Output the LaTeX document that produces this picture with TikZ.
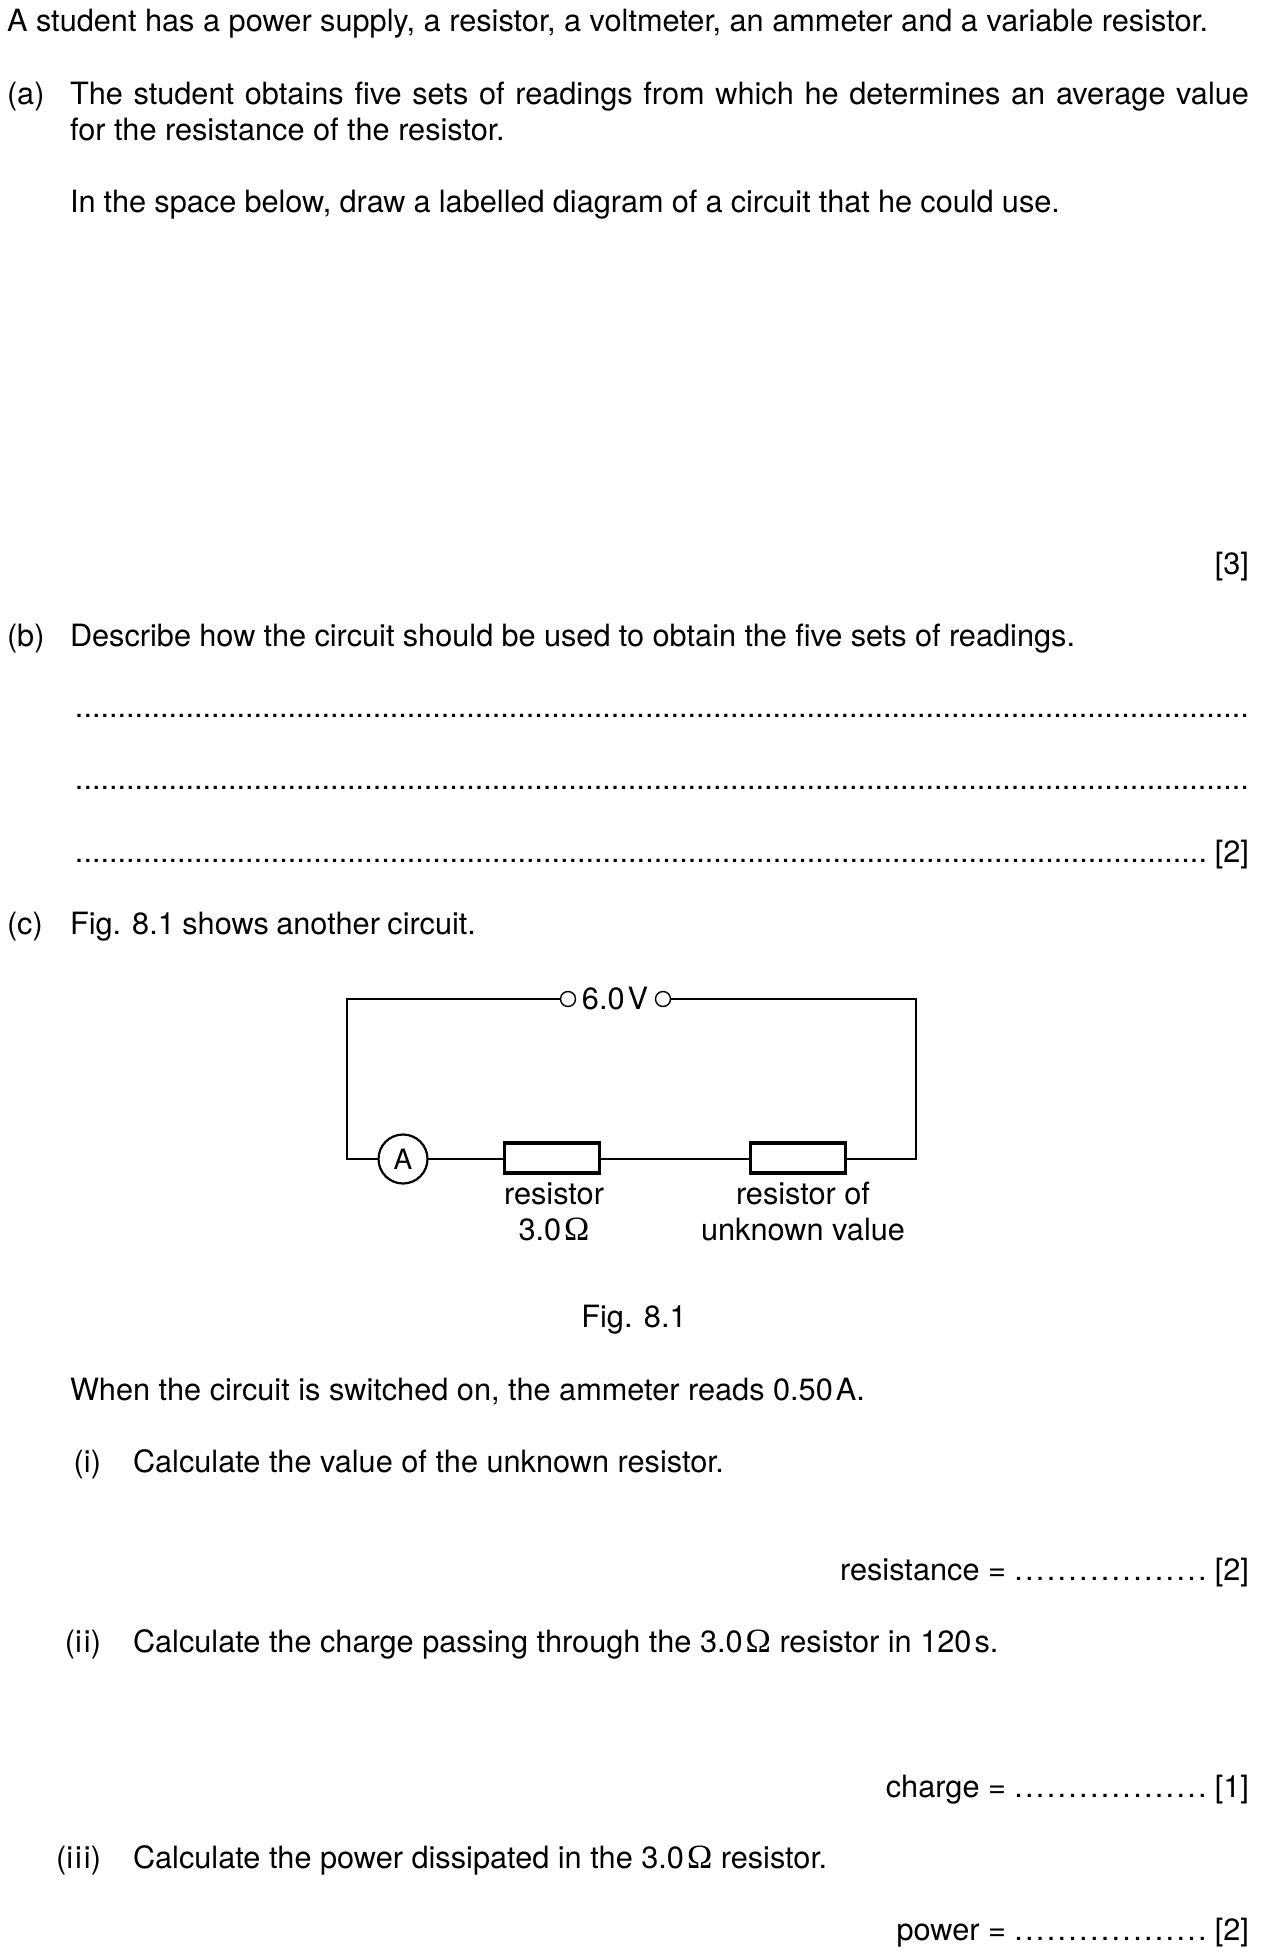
\documentclass[tikz,border=0pt]{standalone}
\usepackage{fontspec}
\setmainfont{TeX Gyre Heros}
\newfontfamily\omegafont{Liberation Serif}
\newcommand{\ohm}{{\omegafont\fontsize{17pt}{18pt}\selectfont Ω}}
\newcommand{\thin}{\kern1.5pt}
\newcommand{\dense}[1]{\hbox to #1{\xleaders\hbox to 4.25pt{\hss.\hss}\hfill}}
\newcommand{\sparse}{\hbox to 97.5pt{\xleaders\hbox to 5.2pt{\hss.\hss}\hfill}}
\tikzset{
  x=0.5pt,y=-0.5pt,
  txt/.style={anchor=base west,inner sep=0pt,outer sep=0pt,font=\fontsize{15.35pt}{18pt}\selectfont},
  rtxt/.style={txt,anchor=base east},
  ctxt/.style={txt,anchor=base},
  wire/.style={line width=0.55pt,line cap=round},
  resbox/.style={draw,line width=1.8pt,minimum width=47.5pt,minimum height=15pt,inner sep=0pt,outer sep=0pt},
  meter/.style={draw,circle,line width=1.1pt,minimum size=24.5pt,inner sep=0pt,outer sep=0pt,font=\fontsize{14pt}{16pt}\selectfont},
  term/.style={draw,circle,line width=0.7pt,minimum size=7.5pt,inner sep=0pt,outer sep=0pt}
}
\begin{document}
\begin{tikzpicture}
\useasboundingbox (0,0) rectangle (1270,1957);
\node[txt] (intro) at (7,32) {A student has a power supply, a resistor, a voltmeter, an ammeter and a variable resistor.};
\node[txt] (a) at (7,105) {(a)};
\node[txt] (a1) at (70,105) {\hbox to 589.5pt{The student obtains five sets of readings from which he determines an average value}};
\node[txt] (a2) at (70,141) {for the resistance of the resistor.};
\node[txt] (a3) at (70,213) {\hbox to 495pt{In the space below, draw a labelled diagram of a circuit that he could use.}};
\node[rtxt] (m3) at (1249,574) {[3]};
\node[txt] (b) at (7,646) {(b)};
\node[txt] (b1) at (70,646) {\hbox to 502.5pt{Describe how the circuit should be used to obtain the five sets of readings.}};
\node[txt] (d1) at (75,717.5) {\dense{587pt}};
\node[txt] (d2) at (75,789.5) {\dense{587pt}};
\node[txt] (d3) at (75,862) {\dense{566pt}};
\node[rtxt] (m2b) at (1249,862) {[2]};
\node[txt] (c) at (7,934.5) {(c)};
\node[txt] (c1) at (70,934.5) {\hbox to 203pt{Fig. 8.1 shows another circuit.}};
% circuit
\coordinate (tl) at (347,999);
\coordinate (tr) at (916,999);
\coordinate (bl) at (347,1159);
\coordinate (br) at (916,1159);
\node[term] (t1) at (568,999) {};
\node[term] (t2) at (663,999) {};
\node[ctxt] (v) at (615,1009.5) {6.0\thin V};
\node[meter] (am) at (403,1159) {A};
\node[resbox] (r1) at (552,1158) {};
\node[resbox] (r2) at (798,1158) {};
\draw[wire] (t1) -- (tl) -- (bl) -- (am);
\draw[wire] (am) -- (r1.west |- am);
\draw[wire] (r1.east |- am) -- (r2.west |- am);
\draw[wire] (r2.east |- am) -- (br) -- (tr) -- (t2);
\node[ctxt] (l1) at (554,1204.5) {resistor};
\node[ctxt] (l2) at (554,1240) {3.0\thin\ohm};
\node[ctxt] (l3) at (803,1204.5) {resistor of};
\node[ctxt] (l4) at (803,1240) {unknown value};
\node[ctxt] (fig) at (634,1327) {Fig. 8.1};
\node[txt] (w) at (70,1400) {When the circuit is switched on, the ammeter reads 0.50\thin A.};
\node[rtxt] (i) at (101,1472) {(i)};
\node[txt] (i1) at (133,1472) {Calculate the value of the unknown resistor.};
\node[rtxt] (ia) at (1249,1580) {[2]};
\node[txt] (ib) at (1013,1580) {\sparse};
\node[rtxt] (ic) at (1006,1580) {resistance =};
\node[rtxt] (ii) at (101,1652) {(i\kern1pt i)};
\node[txt] (ii1) at (133,1652) {Calculate the charge passing through the 3.0\thin\ohm{} resistor in 120\thin s.};
\node[rtxt] (iia) at (1249,1797) {[1]};
\node[txt] (iib) at (1013,1797) {\sparse};
\node[rtxt] (iic) at (1006,1797) {charge =};
\node[rtxt] (iii) at (101,1868) {(i\kern1pt i\kern1pt i)};
\node[txt] (iii1) at (133,1868) {Calculate the power dissipated in the 3.0\thin\ohm{} resistor.};
\node[rtxt] (iiia) at (1249,1940) {[2]};
\node[txt] (iiib) at (1013,1940) {\sparse};
\node[rtxt] (iiic) at (1006,1940) {power =};
\end{tikzpicture}
\end{document}
